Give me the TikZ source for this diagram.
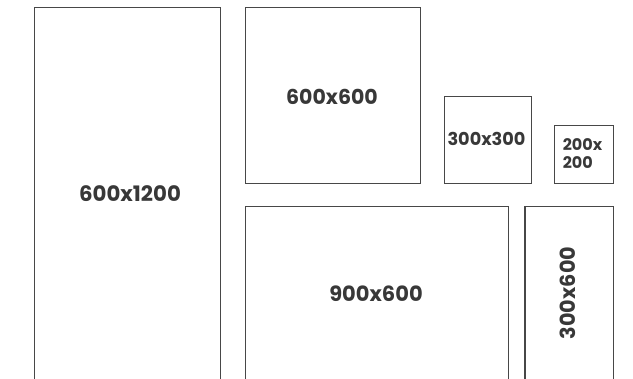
\documentclass[tikz,border=0pt]{standalone}
\usepackage{fontspec}
\setmainfont{Poppins}
\begin{document}
\begin{tikzpicture}[x=1pt,y=-1pt,
  tile/.style={draw=black!72, line width=1.3pt, inner sep=0pt, anchor=north west},
  lbl/.style={text=black!78, inner sep=0pt}]
\useasboundingbox (0,0) rectangle (633,379);
\node[tile, minimum width=186pt, minimum height=375pt] (a) at (34,7) {};
\node[tile, minimum width=174.5pt, minimum height=176pt] (b) at (245,7) {};
\node[tile, minimum width=87pt, minimum height=87pt] (c) at (443.5,96) {};
\node[tile, minimum width=58.5pt, minimum height=58pt] (d) at (554,125) {};
\node[tile, minimum width=262.5pt, minimum height=176pt] (e) at (245,206) {};
\node[tile, minimum width=88.5pt, minimum height=176pt] (f) at (524.3,206) {};
\node[lbl, font=\fontsize{21.3}{24}\selectfont\bfseries] (ta) at (130,194) {600x1200};
\node[lbl, font=\fontsize{20.5}{24}\selectfont\bfseries] (tb) at (332,97) {600x600};
\node[lbl, font=\fontsize{17.7}{20}\selectfont\bfseries] (tc) at (486.5,139) {300x300};
\node[lbl, font=\fontsize{16}{18}\selectfont\bfseries, align=left] (td) at (582.5,154) {200x\\200};
\node[lbl, font=\fontsize{21}{24}\selectfont\bfseries] (te) at (376,294) {900x600};
\node[lbl, font=\fontsize{20.8}{24}\selectfont\bfseries, rotate=90] (tf) at (568,293) {300x600};
\end{tikzpicture}
\end{document}
